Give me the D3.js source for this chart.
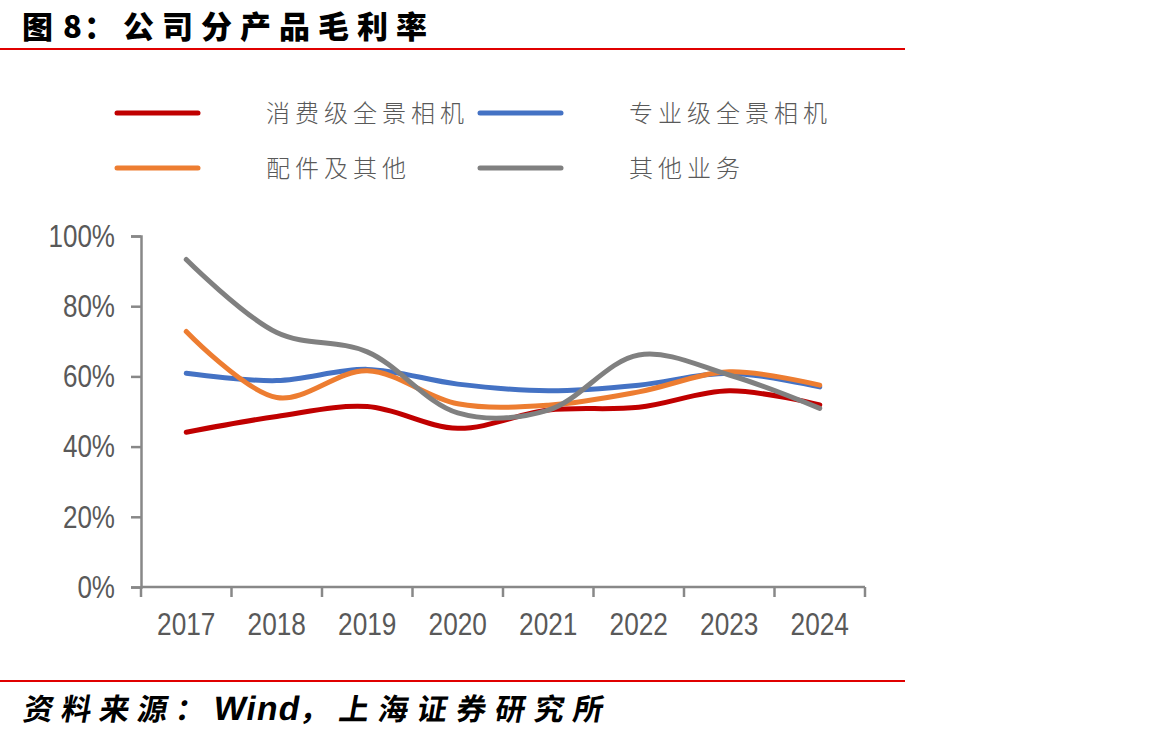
<!DOCTYPE html>
<html>
<head>
<meta charset="utf-8">
<script src="https://cdn.jsdelivr.net/npm/d3@7"></script>
<style>
  body { margin: 0; background: #fff; }
  svg { display: block; }
</style>
</head>
<body>
<div id="chart"></div>
<script>
// data
var years = ["2017", "2018", "2019", "2020", "2021", "2022", "2023", "2024"];
var consumer = [44.1, 48.6, 51.4, 45.2, 50.4, 51.2, 55.9, 51.9];
var professional = [60.9, 58.8, 62.0, 57.8, 55.9, 57.5, 60.9, 57.0];
var accessories = [72.8, 54.0, 61.6, 52.2, 51.8, 55.6, 61.3, 57.5];
var otherBiz = [93.3, 72.5, 67.0, 49.6, 50.4, 66.1, 60.4, 50.9];
var seriesNames = ["消费级全景相机", "专业级全景相机", "配件及其他", "其他业务"];
var seriesColors = ["#c00000", "#4472c4", "#ed7d31", "#808080"];
var yTicks = [0, 20, 40, 60, 80, 100];

var series = [consumer, professional, accessories, otherBiz];

function drawChart() {
  var width = 1155, height = 739;
  var svg = d3.select("#chart").append("svg")
      .attr("width", width)
      .attr("height", height);

  var cjk = "'Noto Sans CJK SC'";

  // title + red rule
  var title = svg.append("text")
      .attr("x", 22).attr("y", 38)
      .style("font-family", cjk)
      .style("font-weight", "900")
      .style("font-size", "31px")
      .attr("fill", "#000");
  title.append("tspan").style("letter-spacing", "10px").text("图");
  title.append("tspan").style("letter-spacing", "2px").text("8");
  title.append("tspan").style("letter-spacing", "8px").text("：公司分产品毛利率");
  svg.append("line")
      .attr("x1", 0).attr("x2", 905).attr("y1", 49).attr("y2", 49)
      .attr("stroke", "#e00000").attr("stroke-width", 2);

  // footer
  svg.append("line")
      .attr("x1", 0).attr("x2", 905).attr("y1", 681).attr("y2", 681)
      .attr("stroke", "#e00000").attr("stroke-width", 2);
  var foot = svg.append("text")
      .attr("x", 22).attr("y", 720)
      .attr("transform", "skewX(-10) translate(127,0)")
      .style("font-family", cjk)
      .style("font-weight", "700")
      .style("font-size", "30px")
      .attr("fill", "#000");
  foot.append("tspan").style("letter-spacing", "8px").text("资料来源：");
  foot.append("tspan")
      .style("font-family", "'Liberation Sans', Arial, sans-serif")
      .style("font-size", "34px")
      .style("letter-spacing", "1px")
      .text("Wind");
  foot.append("tspan").style("letter-spacing", "9px").text("，上海证券研究所");

  // plot area
  var pLeft = 141, pRight = 865, pTop = 236, pBottom = 587;

  var x = d3.scaleBand().domain(years).range([pLeft, pRight]);
  var y = d3.scaleLinear().domain([0, 100]).range([pBottom, pTop]);

  var axisColor = "#888888";
  var labelColor = "#595959";
  var numFont = "'Liberation Sans', Arial, sans-serif";

  // y axis
  var yAxis = svg.append("g")
      .attr("transform", "translate(" + pLeft + ",0)")
      .call(d3.axisLeft(y).tickValues(yTicks).tickSize(10).tickFormat(function(d) { return d + "%"; }));
  yAxis.select(".domain").attr("stroke", axisColor).attr("stroke-width", 2.5);
  yAxis.selectAll(".tick line").attr("stroke", axisColor).attr("stroke-width", 2.5);
  yAxis.selectAll(".tick text")
      .attr("x", null)
      .attr("dy", "0.33em")
      .attr("transform", "translate(-26,0) scale(0.84,1)")
      .attr("fill", labelColor)
      .style("font-family", numFont)
      .style("font-size", "31px");

  // x axis: ticks sit on band boundaries
  var xAxis = svg.append("g")
      .attr("transform", "translate(0," + pBottom + ")");
  xAxis.append("line")
      .attr("x1", pLeft).attr("x2", pRight)
      .attr("stroke", axisColor).attr("stroke-width", 2.5);
  var bounds = years.map(function(d) { return x(d); }).concat([pRight]);
  xAxis.selectAll("line.tk").data(bounds).enter().append("line")
      .attr("class", "tk")
      .attr("x1", function(d) { return d; }).attr("x2", function(d) { return d; })
      .attr("y1", 0).attr("y2", 10)
      .attr("stroke", axisColor).attr("stroke-width", 2.5);
  xAxis.selectAll("text").data(years).enter().append("text")
      .attr("transform", function(d) {
        return "translate(" + (x(d) + x.bandwidth() / 2) + ",48) scale(0.82,1)";
      })
      .attr("text-anchor", "middle")
      .attr("fill", labelColor)
      .style("font-family", numFont)
      .style("font-size", "32px")
      .text(function(d) { return d; });

  // series lines
  var line = d3.line()
      .x(function(d, i) { return x(years[i]) + x.bandwidth() / 2; })
      .y(function(d) { return y(d); })
      .curve(d3.curveCatmullRom.alpha(0.5));

  svg.selectAll("path.series").data(series).enter().append("path")
      .attr("class", "series")
      .attr("d", line)
      .attr("fill", "none")
      .attr("stroke", function(d, i) { return seriesColors[i]; })
      .attr("stroke-width", 5)
      .attr("stroke-linecap", "round")
      .attr("stroke-linejoin", "round");

  // legend
  var legPos = [[115, 113], [478, 113], [115, 168], [478, 168]];
  var leg = svg.selectAll("g.leg").data(seriesNames).enter().append("g")
      .attr("class", "leg")
      .attr("transform", function(d, i) { return "translate(" + legPos[i][0] + "," + legPos[i][1] + ")"; });
  leg.append("line")
      .attr("x1", 2).attr("x2", 83)
      .attr("stroke", function(d, i) { return seriesColors[i]; })
      .attr("stroke-width", 5)
      .attr("stroke-linecap", "round");
  leg.append("text")
      .attr("x", 151)
      .attr("dy", "0.36em")
      .attr("fill", labelColor)
      .style("font-family", cjk)
      .style("font-weight", "300")
      .style("font-size", "24px")
      .style("letter-spacing", "5px")
      .text(function(d) { return d; });
}

drawChart();
</script>
</body>
</html>
